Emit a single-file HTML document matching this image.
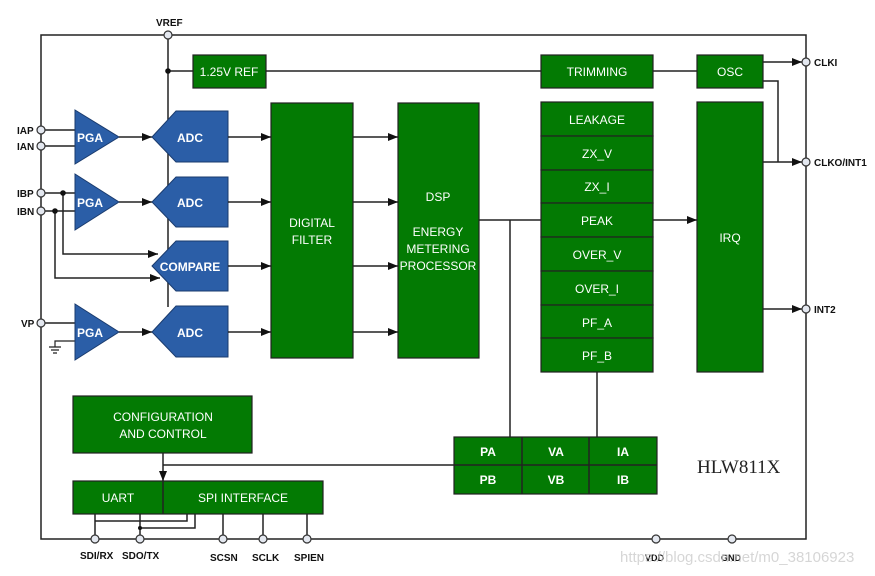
<!DOCTYPE html>
<html><head><meta charset="utf-8"><style>
html,body{margin:0;padding:0;background:#fff}
svg{display:block}
text{font-family:"Liberation Sans",sans-serif}
.w{fill:#fff;font-size:12px;text-anchor:middle}
.wb{fill:#fff;font-size:12px;font-weight:bold;text-anchor:middle}
.p{fill:#111;font-size:10px;font-weight:bold}
.g{fill:#037a03;stroke:#222;stroke-width:1.2}
.b{fill:#2b5ea7;stroke:#1a3b6e;stroke-width:1}
.l{stroke:#222;stroke-width:1.5;fill:none}
.c{fill:#e4e8f0;stroke:#333;stroke-width:1.2}
</style></head><body>
<svg width="875" height="576" viewBox="0 0 875 576" xmlns="http://www.w3.org/2000/svg">
<defs><marker id="a" markerWidth="10" markerHeight="8" refX="10" refY="4" orient="auto" markerUnits="userSpaceOnUse"><path d="M0,0 L10,4 L0,8z" fill="#111"/></marker></defs>
<path class="l" d="M41,35 H806 V539 H41 Z"/>
<path class="l" d="M168,35 V307 M168,71 H193"/>
<circle cx="168" cy="71" r="2.8" fill="#111"/>
<circle class="c" cx="168" cy="35" r="4"/>
<text class="p" x="156" y="26">VREF</text>
<rect class="g" x="193" y="55" width="73" height="33"/><text class="w" x="229" y="76">1.25V REF</text>
<path class="l" d="M266,71 H541 M653,71 H697"/>
<rect class="g" x="541" y="55" width="112" height="33"/><text class="w" x="597" y="76">TRIMMING</text>
<rect class="g" x="697" y="55" width="66" height="33"/><text class="w" x="730" y="76">OSC</text>
<path class="l" d="M763,62 H802" marker-end="url(#a)"/>
<path class="l" d="M763,81 H778 V162"/>
<path class="l" d="M41,130 H75 M41,146 H75 M41,193 H75 M41,211 H75 M41,323 H75"/>
<path class="l" d="M63,193 V254 H158" marker-end="url(#a)"/>
<path class="l" d="M55,211 V278 H160" marker-end="url(#a)"/>
<circle cx="63" cy="193" r="2.8" fill="#111"/><circle cx="55" cy="211" r="2.8" fill="#111"/>
<path class="l" d="M75,341 H55 V347 M49,347 H61 M51,350 H59 M53,353 H57" style="stroke-width:1.2"/>
<g class="p"><text x="17" y="134">IAP</text><text x="17" y="150">IAN</text><text x="17" y="197">IBP</text><text x="17" y="215">IBN</text><text x="21" y="327">VP</text></g>
<circle class="c" cx="41" cy="130" r="4"/><circle class="c" cx="41" cy="146" r="4"/><circle class="c" cx="41" cy="193" r="4"/><circle class="c" cx="41" cy="211" r="4"/><circle class="c" cx="41" cy="323" r="4"/>
<polygon class="b" points="75,110 119,137 75,164"/><text class="wb" x="90" y="142">PGA</text>
<polygon class="b" points="75,174 119,202 75,230"/><text class="wb" x="90" y="207">PGA</text>
<polygon class="b" points="75,304 119,332 75,360"/><text class="wb" x="90" y="337">PGA</text>
<path class="l" d="M119,137 H152" marker-end="url(#a)"/>
<path class="l" d="M119,202 H152" marker-end="url(#a)"/>
<path class="l" d="M119,332 H152" marker-end="url(#a)"/>
<polygon class="b" points="152,137 176,111 228,111 228,162 176,162"/><text class="wb" x="190" y="142">ADC</text>
<polygon class="b" points="152,202 176,177 228,177 228,227 176,227"/><text class="wb" x="190" y="207">ADC</text>
<polygon class="b" points="152,266 176,241 228,241 228,291 176,291"/><text class="wb" x="190" y="271">COMPARE</text>
<polygon class="b" points="152,332 176,306 228,306 228,357 176,357"/><text class="wb" x="190" y="337">ADC</text>
<path class="l" d="M228,137 H271" marker-end="url(#a)"/>
<path class="l" d="M228,202 H271" marker-end="url(#a)"/>
<path class="l" d="M228,266 H271" marker-end="url(#a)"/>
<path class="l" d="M228,332 H271" marker-end="url(#a)"/>
<rect class="g" x="271" y="103" width="82" height="255"/>
<text class="w" x="312" y="227">DIGITAL</text><text class="w" x="312" y="244">FILTER</text>
<path class="l" d="M353,137 H398" marker-end="url(#a)"/>
<path class="l" d="M353,202 H398" marker-end="url(#a)"/>
<path class="l" d="M353,266 H398" marker-end="url(#a)"/>
<path class="l" d="M353,332 H398" marker-end="url(#a)"/>
<rect class="g" x="398" y="103" width="81" height="255"/>
<text class="w" x="438" y="201">DSP</text><text class="w" x="438" y="236">ENERGY</text><text class="w" x="438" y="253">METERING</text><text class="w" x="438" y="270">PROCESSOR</text>
<path class="l" d="M479,220 H541 M510,220 V437 M597,372 V437"/>
<rect class="g" x="541" y="102" width="112" height="34"/><text class="w" x="597" y="124">LEAKAGE</text>
<rect class="g" x="541" y="136" width="112" height="34"/><text class="w" x="597" y="158">ZX_V</text>
<rect class="g" x="541" y="170" width="112" height="33"/><text class="w" x="597" y="191">ZX_I</text>
<rect class="g" x="541" y="203" width="112" height="34"/><text class="w" x="597" y="225">PEAK</text>
<rect class="g" x="541" y="237" width="112" height="34"/><text class="w" x="597" y="259">OVER_V</text>
<rect class="g" x="541" y="271" width="112" height="34"/><text class="w" x="597" y="293">OVER_I</text>
<rect class="g" x="541" y="305" width="112" height="33"/><text class="w" x="597" y="327">PF_A</text>
<rect class="g" x="541" y="338" width="112" height="34"/><text class="w" x="597" y="360">PF_B</text>
<path class="l" d="M653,220 H697" marker-end="url(#a)"/>
<rect class="g" x="697" y="102" width="66" height="270"/><text class="w" x="730" y="242">IRQ</text>
<path class="l" d="M763,162 H802" marker-end="url(#a)"/>
<path class="l" d="M763,309 H802" marker-end="url(#a)"/>
<circle class="c" cx="806" cy="62" r="4"/><circle class="c" cx="806" cy="162" r="4"/><circle class="c" cx="806" cy="309" r="4"/>
<g class="p"><text x="814" y="66">CLKI</text><text x="814" y="166">CLKO/INT1</text><text x="814" y="313">INT2</text></g>
<rect class="g" x="454" y="437" width="203" height="57"/>
<path class="l" d="M454,465 H657 M522,437 V494 M589,437 V494"/>
<text class="wb" x="488" y="456">PA</text><text class="wb" x="556" y="456">VA</text><text class="wb" x="623" y="456">IA</text>
<text class="wb" x="488" y="484">PB</text><text class="wb" x="556" y="484">VB</text><text class="wb" x="623" y="484">IB</text>
<path class="l" d="M454,465 H163"/>
<text x="697" y="473" style="font-family:'Liberation Serif',serif;font-size:19px;fill:#222">HLW811X</text>
<rect class="g" x="73" y="396" width="179" height="57"/>
<text class="w" x="163" y="421">CONFIGURATION</text><text class="w" x="163" y="438">AND CONTROL</text>
<path class="l" d="M163,453 V481" marker-end="url(#a)"/>
<rect class="g" x="73" y="481" width="250" height="33"/>
<path class="l" d="M163,481 V514"/>
<text class="w" x="118" y="502">UART</text><text class="w" x="243" y="502">SPI INTERFACE</text>
<path class="l" d="M95,514 V539 M95,521 H187 V514 M140,514 V539 M140,528 H195 V514 M223,514 V539 M263,514 V539 M307,514 V539"/>
<circle cx="140" cy="528" r="2" fill="#111"/>
<circle class="c" cx="95" cy="539" r="4"/><circle class="c" cx="140" cy="539" r="4"/><circle class="c" cx="223" cy="539" r="4"/><circle class="c" cx="263" cy="539" r="4"/><circle class="c" cx="307" cy="539" r="4"/>
<circle class="c" cx="656" cy="539" r="4"/><circle class="c" cx="732" cy="539" r="4"/>
<g class="p"><text x="80" y="559">SDI/RX</text><text x="122" y="559">SDO/TX</text><text x="210" y="561">SCSN</text><text x="252" y="561">SCLK</text><text x="294" y="561">SPIEN</text><text x="645" y="561" style="font-size:9px">VDD</text><text x="721" y="561" style="font-size:9px">GND</text></g>
<text x="620" y="562" style="font-size:15px;fill:#ccc;opacity:.8">https://blog.csdn.net/m0_38106923</text>
</svg>
</body></html>
